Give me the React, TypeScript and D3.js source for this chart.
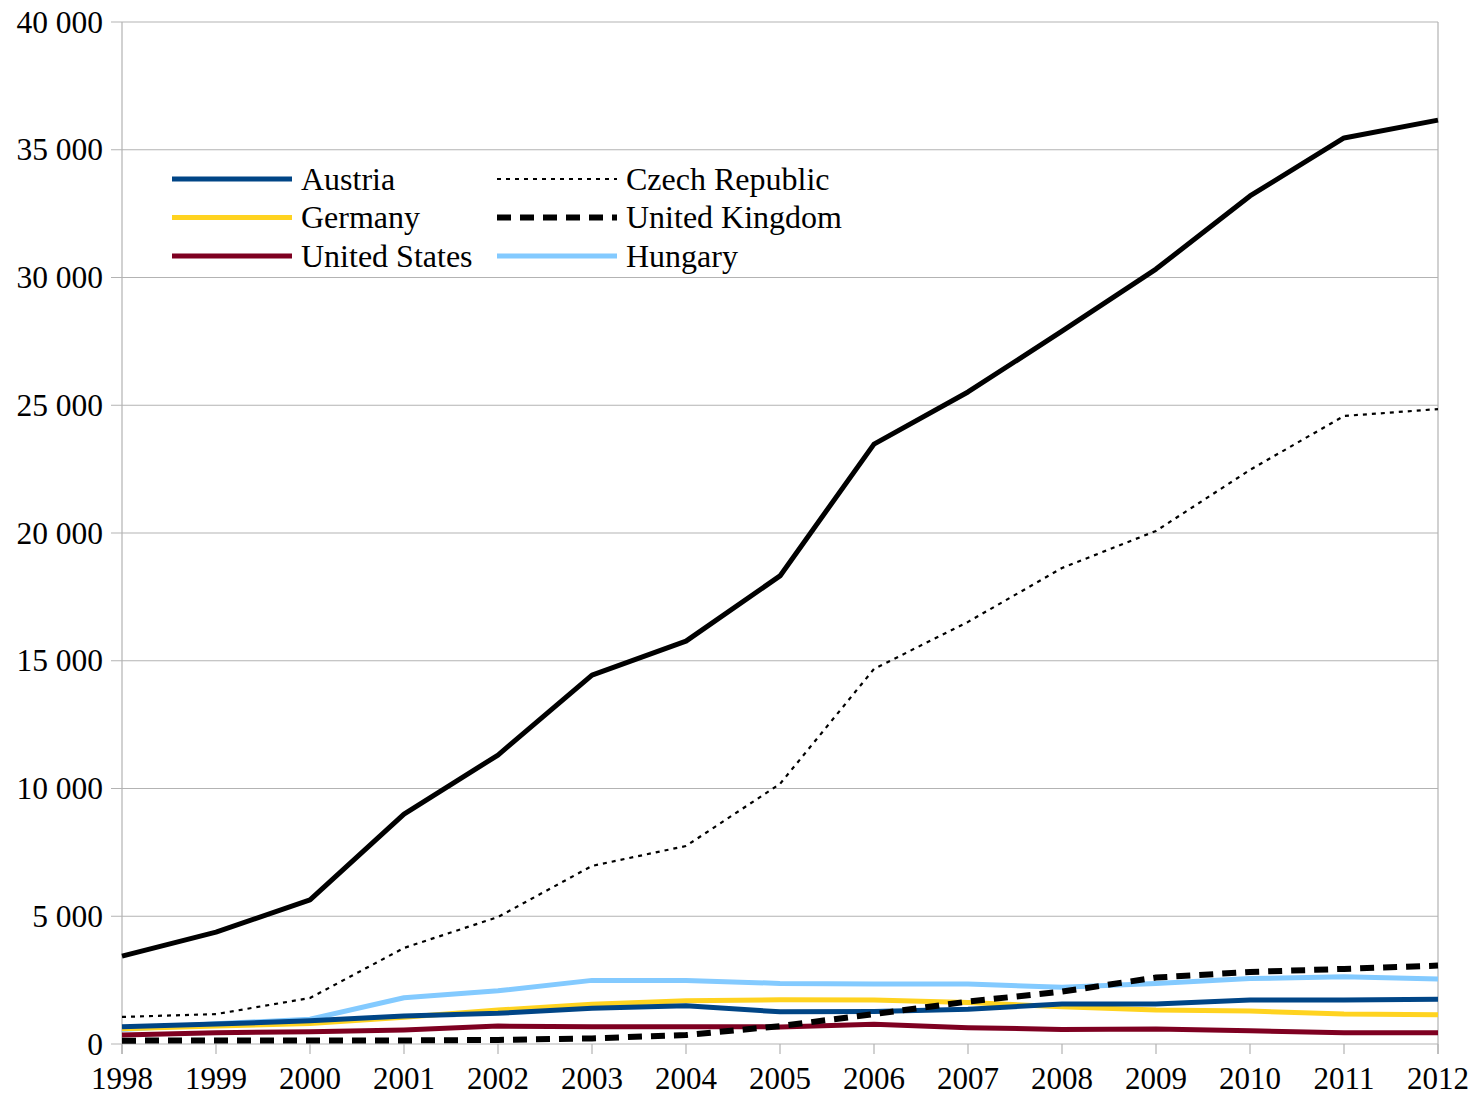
import React, { useEffect, useRef } from "react";
import * as d3 from "d3";

const years = [1998, 1999, 2000, 2001, 2002, 2003, 2004, 2005, 2006, 2007, 2008, 2009, 2010, 2011, 2012];
const total = [3440, 4380, 5640, 9000, 11310, 14440, 15770, 18320, 23480, 25520, 27900, 30330, 33190, 35460, 36160];
const czech = [1060, 1170, 1800, 3760, 4970, 6970, 7750, 10180, 14680, 16520, 18630, 20080, 22470, 24580, 24850];
const uk = [130, 140, 140, 140, 160, 220, 350, 700, 1170, 1660, 2050, 2600, 2820, 2940, 3070];
const austria = [680, 780, 910, 1100, 1200, 1400, 1500, 1260, 1270, 1360, 1570, 1570, 1720, 1720, 1750];
const germany = [600, 700, 800, 1050, 1330, 1560, 1690, 1730, 1720, 1620, 1460, 1330, 1290, 1170, 1140];
const usa = [350, 440, 480, 550, 700, 680, 680, 670, 770, 640, 570, 590, 520, 440, 440];
const hungary = [570, 790, 970, 1810, 2080, 2490, 2490, 2370, 2350, 2350, 2220, 2370, 2560, 2630, 2540];
const yTicks = [0, 5000, 10000, 15000, 20000, 25000, 30000, 35000, 40000];

const series = [
  { name: "", values: total, color: "#000000", width: 5, dash: "" },
  { name: "Czech Republic", values: czech, color: "#000000", width: 2.2, dash: "4 5" },
  { name: "Hungary", values: hungary, color: "#83caff", width: 5, dash: "" },
  { name: "Germany", values: germany, color: "#ffd320", width: 5, dash: "" },
  { name: "Austria", values: austria, color: "#004586", width: 5, dash: "" },
  { name: "United States", values: usa, color: "#7e0021", width: 5, dash: "" },
  { name: "United Kingdom", values: uk, color: "#000000", width: 6, dash: "14 9" },
];

const legendItems = [
  { name: "Austria", col: 0, row: 0 },
  { name: "Germany", col: 0, row: 1 },
  { name: "United States", col: 0, row: 2 },
  { name: "Czech Republic", col: 1, row: 0 },
  { name: "United Kingdom", col: 1, row: 1 },
  { name: "Hungary", col: 1, row: 2 },
];

export default function App() {
  const ref = useRef<SVGSVGElement>(null);
  useEffect(() => {
    const svg = d3.select(ref.current);
    svg.selectAll("*").remove();
    const left = 122, right = 1438, top = 22, bottom = 1044;
    const x = d3.scaleLinear().domain([1998, 2012]).range([left, right]);
    const y = d3.scaleLinear().domain([0, 40000]).range([bottom, top]);
    const font = "'Liberation Serif', 'DejaVu Serif', serif";
    const grid = "#b3b3b3";

    svg.append("g").selectAll("line").data(yTicks).join("line")
      .attr("x1", left - 11).attr("x2", right)
      .attr("y1", (d) => y(d)).attr("y2", (d) => y(d))
      .attr("stroke", grid).attr("stroke-width", 1.2);
    svg.append("line").attr("x1", left).attr("x2", left).attr("y1", top).attr("y2", bottom + 10)
      .attr("stroke", grid).attr("stroke-width", 1.2);
    svg.append("line").attr("x1", right).attr("x2", right).attr("y1", top).attr("y2", bottom + 10)
      .attr("stroke", grid).attr("stroke-width", 1.2);
    svg.append("g").selectAll("line").data(years).join("line")
      .attr("x1", (d) => x(d)).attr("x2", (d) => x(d))
      .attr("y1", bottom).attr("y2", bottom + 10)
      .attr("stroke", grid).attr("stroke-width", 1.2);

    svg.append("g").selectAll("text").data(yTicks).join("text")
      .attr("x", 103).attr("y", (d) => y(d) + 10.5)
      .attr("text-anchor", "end")
      .attr("font-family", font).attr("font-size", 31.5).attr("fill", "#000")
      .text((d) => d3.format(",")(d).replace(/,/g, "\u00a0"));
    svg.append("g").selectAll("text").data(years).join("text")
      .attr("x", (d) => x(d)).attr("y", 1089)
      .attr("text-anchor", "middle")
      .attr("font-family", font).attr("font-size", 31).attr("fill", "#000")
      .text((d) => String(d));

    const line = d3.line<number>().x((_, i) => x(years[i])).y((d) => y(d));
    svg.append("g").selectAll("path").data(series).join("path")
      .attr("d", (d) => line(d.values) as string)
      .attr("fill", "none")
      .attr("stroke", (d) => d.color)
      .attr("stroke-width", (d) => d.width)
      .attr("stroke-dasharray", (d) => d.dash || null)
      .attr("stroke-linejoin", "round");

    const lg = svg.append("g");
    legendItems.forEach((it) => {
      const s = series.find((d) => d.name === it.name)!;
      const lx = it.col === 0 ? 172 : 497;
      const ly = 179 + it.row * 38.5;
      lg.append("line").attr("x1", lx).attr("x2", lx + 120).attr("y1", ly).attr("y2", ly)
        .attr("stroke", s.color).attr("stroke-width", s.width)
        .attr("stroke-dasharray", s.dash || null);
      lg.append("text").attr("x", lx + 129).attr("y", ly + 10.5)
        .attr("font-family", font).attr("font-size", 32).attr("fill", "#000")
        .text(it.name);
    });
  }, []);
  return (
    <svg ref={ref} width={1474} height={1095}
      style={{ position: "absolute", left: 0, top: 0, background: "#fff" }} />
  );
}
